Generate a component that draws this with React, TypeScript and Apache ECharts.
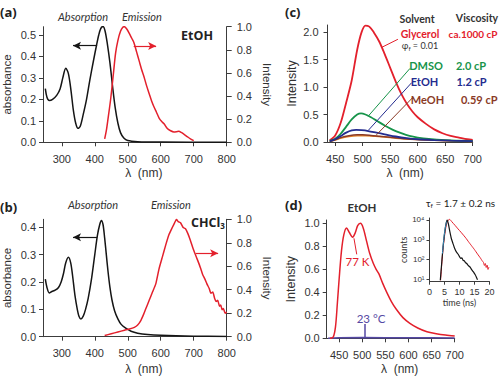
import React, { useEffect, useRef } from 'react';
import * as echarts from 'echarts';

// ---------- Panel (a): EtOH ----------
const aAbsX = [250, 255, 262, 272, 285, 295, 303, 312, 320, 328, 335, 342, 349, 356, 365, 375, 385, 396, 405, 412, 418, 425, 431, 438, 446, 454, 462, 470, 478, 488, 500, 530, 600, 800];
const aAbsY = [0.25, 0.21, 0.195, 0.2, 0.22, 0.25, 0.3, 0.345, 0.32, 0.24, 0.15, 0.09, 0.065, 0.075, 0.13, 0.2, 0.29, 0.38, 0.45, 0.5, 0.53, 0.54, 0.52, 0.46, 0.37, 0.26, 0.16, 0.09, 0.045, 0.02, 0.008, 0.003, 0.001, 0.0];
const aEmX = [430, 435, 440, 448, 456, 463, 470, 478, 485, 490, 497, 505, 512, 519, 527, 535, 542, 549, 557, 565, 572, 579, 587, 595, 603, 610, 620, 630, 640, 648, 655, 662, 670, 680, 690, 700];
const aEmY = [0.03, 0.1, 0.2, 0.37, 0.58, 0.77, 0.88, 0.96, 0.995, 1.0, 0.98, 0.94, 0.9, 0.86, 0.78, 0.7, 0.63, 0.57, 0.49, 0.42, 0.36, 0.31, 0.26, 0.21, 0.18, 0.16, 0.12, 0.1, 0.09, 0.092, 0.095, 0.085, 0.07, 0.05, 0.03, 0.015];

// ---------- Panel (b): CHCl3 ----------
const bAbsX = [250, 255, 262, 270, 280, 290, 298, 305, 312, 320, 327, 333, 340, 347, 352, 358, 365, 372, 380, 390, 400, 408, 415, 420, 425, 430, 435, 440, 446, 452, 460, 470, 480, 495, 510, 530, 560, 600, 700, 800];
const bAbsY = [0.21, 0.18, 0.16, 0.165, 0.17, 0.18, 0.2, 0.23, 0.27, 0.29, 0.27, 0.22, 0.15, 0.1, 0.075, 0.065, 0.075, 0.1, 0.14, 0.21, 0.3, 0.37, 0.41, 0.425, 0.41, 0.36, 0.3, 0.24, 0.18, 0.135, 0.095, 0.065, 0.045, 0.03, 0.02, 0.013, 0.008, 0.005, 0.002, 0.001];
const bEmX = [430, 450, 470, 490, 505, 520, 530, 540, 548, 555, 565, 575, 585, 595, 605, 615, 625, 635, 642, 648, 653, 660, 668, 675, 682, 690, 697, 705, 712, 720, 727, 734, 740, 747, 752, 758, 763, 768, 773, 778, 782, 786, 790, 795, 800];
const bEmY = [0.01, 0.025, 0.04, 0.055, 0.065, 0.08, 0.1, 0.14, 0.19, 0.24, 0.31, 0.38, 0.45, 0.58, 0.68, 0.78, 0.87, 0.93, 0.97, 1.0, 0.98, 0.97, 0.93, 0.92, 0.88, 0.82, 0.76, 0.7, 0.65, 0.59, 0.53, 0.49, 0.45, 0.41, 0.37, 0.38, 0.33, 0.3, 0.31, 0.26, 0.27, 0.23, 0.24, 0.2, 0.21];

// ---------- Panel (c): solvents ----------
const cGlyX = [440, 450, 460, 470, 480, 490, 498, 505, 512, 520, 530, 540, 550, 560, 570, 580, 590, 600, 615, 630, 645, 660, 675, 690, 700];
const cGlyY = [0.03, 0.12, 0.35, 0.72, 1.12, 1.68, 2.0, 2.12, 2.1, 2.0, 1.83, 1.6, 1.35, 1.1, 0.88, 0.7, 0.56, 0.45, 0.33, 0.23, 0.16, 0.11, 0.08, 0.05, 0.04];
const cDmsoX = [440, 450, 460, 470, 480, 490, 497, 505, 515, 525, 540, 555, 570, 585, 600, 620, 650, 700];
const cDmsoY = [0.02, 0.06, 0.15, 0.28, 0.41, 0.5, 0.52, 0.5, 0.45, 0.39, 0.3, 0.22, 0.16, 0.11, 0.08, 0.055, 0.035, 0.02];
const cEtohX = [440, 450, 460, 470, 480, 488, 498, 510, 525, 540, 560, 580, 600, 630, 660, 700];
const cEtohY = [0.015, 0.05, 0.11, 0.17, 0.21, 0.22, 0.215, 0.2, 0.17, 0.14, 0.1, 0.07, 0.05, 0.035, 0.025, 0.015];
const cMeohX = [440, 450, 460, 475, 490, 500, 515, 530, 550, 575, 600, 640, 700];
const cMeohY = [0.01, 0.04, 0.08, 0.115, 0.13, 0.13, 0.12, 0.105, 0.085, 0.06, 0.045, 0.03, 0.015];
const cOthX = [440, 450, 460, 475, 490, 505, 520, 540, 560, 590, 620, 660, 700];
const cOthY = [0.01, 0.035, 0.07, 0.1, 0.115, 0.115, 0.105, 0.09, 0.07, 0.05, 0.035, 0.02, 0.01];

// ---------- Panel (d): EtOH 77 K / 23 °C ----------
const d77X = [430, 437, 442, 446, 450, 455, 460, 466, 472, 479, 485, 490, 496, 502, 509, 516, 524, 530, 536, 544, 553, 563, 574, 588, 603, 620, 640, 660, 680, 700];
const d77Y = [0.0, 0.01, 0.1, 0.3, 0.52, 0.76, 0.9, 0.96, 0.92, 0.88, 0.92, 0.98, 1.0, 0.96, 0.85, 0.74, 0.65, 0.6, 0.56, 0.48, 0.4, 0.32, 0.25, 0.18, 0.13, 0.09, 0.057, 0.04, 0.028, 0.02];
const d23X = [426, 450, 500, 550, 600, 650, 700];
const d23Y = [0.0, 0.005, 0.006, 0.005, 0.004, 0.004, 0.003];

// ---------- Inset: decay (log10 counts) ----------
const tBlackX = [3.6, 4.0, 4.5, 5.0, 5.5, 5.9, 6.3, 6.8, 7.3, 7.8, 8.3, 8.9, 9.5, 10.0, 10.4, 10.8, 11.2, 11.6, 12.0, 12.4, 12.8, 13.2, 13.6, 14.0, 14.4, 14.8, 15.2, 15.6, 16.0];
const tBlackY = [0.95, 1.7, 2.6, 3.3, 3.8, 4.0, 3.8, 3.4, 3.05, 2.82, 2.6, 2.4, 2.28, 2.15, 2.06, 2.08, 1.96, 1.94, 1.84, 1.8, 1.72, 1.66, 1.6, 1.5, 1.42, 1.34, 1.24, 1.12, 0.98];
const tRedX = [3.7, 4.2, 4.7, 5.2, 5.7, 6.2, 6.7, 7.5, 8.5, 9.5, 10.5, 11.5, 12.2, 13.0, 14.0, 15.0, 16.0, 17.0, 17.5, 18.0, 18.3, 18.6, 18.9, 19.2, 19.5, 19.8];
const tRedY = [0.95, 2.0, 2.8, 3.4, 3.8, 3.98, 4.03, 3.9, 3.73, 3.55, 3.38, 3.2, 3.07, 2.9, 2.7, 2.5, 2.28, 2.07, 1.95, 1.85, 1.7, 1.8, 1.6, 1.72, 1.5, 1.62];
const tIrfX = [4.3, 4.8, 5.3, 5.7];
const tIrfY = [2.3, 3.1, 3.65, 3.92];

// ---------- Tick labels ----------
const abTicks = [300, 400, 500, 600, 700, 800];
const absTicksA = [0, 0.1, 0.2, 0.3, 0.4, 0.5];
const absTicksB = [0, 0.1, 0.2, 0.3, 0.4];
const intTicks = [0, 0.2, 0.4, 0.6, 0.8, 1.0];
const cdTicks = [450, 500, 550, 600, 650, 700];
const cYTicks = [0, 0.5, 1.0, 1.5, 2.0];
const dYTicks = [0, 0.2, 0.4, 0.6, 0.8, 1.0];
const inXTicks = [0, 5, 10, 15, 20];
const inYTicks = [1, 2, 3, 4];
const supDigits: Record<number, string> = { 1: '¹', 2: '²', 3: '³', 4: '⁴' };

const RED = '#e3202c';
const BLACK = '#151515';
const GREEN = '#17944a';
const BLUE = '#242c8f';
const BROWN = '#8a3a26';
const ORANGE = '#e8862a';
const PURPLE = '#5548a3';
const AX = '#3c3c3c';
const LBL = '#333';

const pairs = (xs: number[], ys: number[]) => xs.map((x, i) => [x, ys[i]]);
const f1 = (v: number) => v.toFixed(1);

function mkAxis(o: any) {
  return {
    type: 'value',
    gridIndex: o.grid,
    position: o.position,
    min: o.min,
    max: o.max,
    name: o.name,
    nameLocation: 'middle',
    nameGap: o.nameGap,
    nameRotate: o.nameRotate,
    nameTextStyle: {
      fontFamily: o.nameFamily || 'Liberation Sans',
      fontSize: o.nameSize || 12,
      color: LBL,
      padding: o.namePadding || 0,
    },
    axisLine: { show: true, onZero: false, lineStyle: { color: AX, width: 1 } },
    axisTick: { show: true, inside: false, length: o.tickLen || 4, customValues: o.ticks, lineStyle: { color: AX } },
    axisLabel: {
      show: true,
      customValues: o.ticks,
      margin: o.margin ?? 7,
      fontFamily: 'Liberation Sans',
      fontSize: o.labelSize || 11,
      color: LBL,
      formatter: o.fmt,
    },
    splitLine: { show: false },
  };
}

function line(x: number, y: number, data: number[][], color: string, width = 1.5, extra: any = {}) {
  return {
    type: 'line',
    xAxisIndex: x,
    yAxisIndex: y,
    data,
    symbol: 'none',
    showSymbol: false,
    smooth: 0.3,
    silent: true,
    lineStyle: { color, width },
    itemStyle: { color },
    emphasis: { disabled: true },
    ...extra,
  };
}

function mark(coords: number[][][], color: string, arrow = false, width = 1) {
  return {
    silent: true,
    symbol: arrow ? ['none', 'arrow'] : ['none', 'none'],
    symbolSize: [6, 8],
    lineStyle: { color, width, type: 'solid' },
    label: { show: false },
    emphasis: { disabled: true },
    data: coords.map((c) => [{ coord: c[0] }, { coord: c[1] }]),
  };
}

function txt(text: string, x: number, y: number, o: any = {}) {
  return {
    type: 'text',
    x,
    y,
    silent: true,
    style: {
      text,
      fill: o.fill || '#222',
      fontSize: o.size || 11,
      fontFamily: o.family || 'Lato',
      fontWeight: o.weight || 'normal',
      fontStyle: o.style || 'normal',
      align: o.align || 'center',
      verticalAlign: 'middle',
      rich: o.rich,
    },
  };
}

export default function App() {
  const ref = useRef<HTMLDivElement>(null);
  useEffect(() => {
    if (!ref.current) return;
    const chart = echarts.init(ref.current, undefined, { renderer: 'svg' });
    const option: any = {
      animation: false,
      backgroundColor: '#fff',
      grid: [
        { left: 43, top: 26.7, width: 183.7, height: 115.6 },
        { left: 43, top: 219.3, width: 183.7, height: 117.4 },
        { left: 327.5, top: 25, width: 145.2, height: 117 },
        { left: 326.7, top: 220, width: 128, height: 118.3 },
        { left: 429.5, top: 218, width: 60, height: 63.7 },
      ],
      xAxis: [
        mkAxis({ grid: 0, min: 243, max: 800, ticks: abTicks, name: 'λ  (nm)', nameGap: 25, margin: 11, namePadding: [0, 0, 0, 18] }),
        mkAxis({ grid: 1, min: 243, max: 800, ticks: abTicks, name: 'λ  (nm)', nameGap: 26, margin: 11, namePadding: [0, 0, 0, 18] }),
        mkAxis({ grid: 2, min: 436, max: 700, ticks: cdTicks, name: 'λ  (nm)', nameGap: 25, margin: 11, namePadding: [0, 0, 0, 10] }),
        mkAxis({ grid: 3, min: 423, max: 700, ticks: cdTicks, name: 'λ  (nm)', nameGap: 25, margin: 11, namePadding: [0, 0, 0, 18] }),
        mkAxis({ grid: 4, min: 0, max: 20, ticks: inXTicks, name: 'time (ns)', nameGap: 16, nameSize: 9, nameFamily: 'Lato', labelSize: 9, margin: 6, tickLen: 3 }),
      ],
      yAxis: [
        mkAxis({ grid: 0, position: 'left', min: 0, max: 0.5387, ticks: absTicksA, fmt: f1, name: 'absorbance', nameGap: 30, nameSize: 11.5 }),
        mkAxis({ grid: 0, position: 'right', min: 0, max: 1, ticks: intTicks, fmt: f1, name: 'Intensity', nameGap: 34, nameRotate: -90, nameSize: 11.5, margin: 10, tickLen: 5 }),
        mkAxis({ grid: 1, position: 'left', min: 0, max: 0.429, ticks: absTicksB, fmt: f1, name: 'absorbance', nameGap: 30, nameSize: 11.5 }),
        mkAxis({ grid: 1, position: 'right', min: 0, max: 1, ticks: intTicks, fmt: f1, name: 'Intensity', nameGap: 34, nameRotate: -90, nameSize: 11.5, margin: 10, tickLen: 5 }),
        mkAxis({ grid: 2, position: 'left', min: 0, max: 2.13, ticks: cYTicks, fmt: f1, name: 'Intensity', nameGap: 29, nameSize: 12.5, margin: 9 }),
        mkAxis({ grid: 3, position: 'left', min: 0, max: 1.029, ticks: dYTicks, fmt: f1, name: 'Intensity', nameGap: 29, nameSize: 12.5, margin: 7 }),
        mkAxis({ grid: 4, position: 'left', min: 0.88, max: 4.1, ticks: inYTicks, fmt: (v: number) => '10' + (supDigits[v] || ''), name: 'counts', nameGap: 20, nameSize: 9, nameFamily: 'Lato', labelSize: 8, margin: 5, tickLen: 3 }),
      ],
      series: [
        // (a)
        line(0, 0, pairs(aAbsX, aAbsY), BLACK, 1.5, { markLine: mark([[[407, 0.45], [334, 0.45]]], BLACK, true, 1.2) }),
        line(0, 1, pairs(aEmX, aEmY), RED, 1.5, { markLine: mark([[[518, 0.833], [586, 0.833]]], RED, true, 1.2) }),
        // (b)
        line(1, 2, pairs(bAbsX, bAbsY), BLACK, 1.5, { markLine: mark([[[407, 0.363], [334, 0.363]]], BLACK, true, 1.2) }),
        line(1, 3, pairs(bEmX, bEmY), RED, 1.5, { smooth: 0.15, markLine: mark([[[706, 0.71], [774, 0.71]]], RED, true, 1.2) }),
        // (c)
        line(2, 4, pairs(cOthX, cOthY), ORANGE, 1.5),
        line(2, 4, pairs(cMeohX, cMeohY), BROWN, 1.5, { markLine: mark([[[525, 0.13], [592, 0.82]]], BROWN) }),
        line(2, 4, pairs(cGlyX, cGlyY), RED, 1.8, { markLine: mark([[[534, 1.72], [564, 1.87]]], RED) }),
        line(2, 4, pairs(cDmsoX, cDmsoY), GREEN, 1.8, { markLine: mark([[[510, 0.47], [586, 1.34]]], GREEN) }),
        line(2, 4, pairs(cEtohX, cEtohY), BLUE, 1.8, { markLine: mark([[[510, 0.21], [589, 1.08]]], BLUE) }),
        // (d)
        line(3, 5, pairs(d23X, d23Y), PURPLE, 1.5, { smooth: false, markLine: mark([[[506, 0.005], [506, 0.124]]], PURPLE, false, 1.5) }),
        line(3, 5, pairs(d77X, d77Y), RED, 1.5, { markLine: mark([[[482, 0.87], [488, 0.73]]], RED) }),
        // inset
        line(4, 6, pairs(tRedX, tRedY), RED, 1, { smooth: 0.2 }),
        line(4, 6, pairs(tBlackX, tBlackY), BLACK, 1.2, { smooth: 0.2 }),
        line(4, 6, pairs(tIrfX, tIrfY), '#3a8fc0', 1, { smooth: 0.2 }),
      ],
      graphic: [
        // (a)
        txt('(a)', 0, 12, { align: 'left', weight: 'bold', size: 13, family: 'Open Sans' }),
        txt('Absorption', 83, 16, { style: 'italic', size: 11, fill: '#333' }),
        txt('Emission', 142, 16, { style: 'italic', size: 11, fill: '#333' }),
        txt('EtOH', 197, 35, { weight: 'bold', size: 12.5, family: 'Open Sans', fill: '#222' }),
        // (b)
        txt('(b)', 0, 207, { align: 'left', weight: 'bold', size: 13, family: 'Open Sans' }),
        txt('Absorption', 93, 204, { style: 'italic', size: 11, fill: '#333' }),
        txt('Emission', 171, 204, { style: 'italic', size: 11, fill: '#333' }),
        txt('{a|CHCl}{s|3}', 208, 222, {
          rich: {
            a: { fontFamily: 'Open Sans', fontWeight: 'bold', fontSize: 12.5, fill: '#222' },
            s: { fontFamily: 'Open Sans', fontWeight: 'bold', fontSize: 8, fill: '#222', padding: [7, 0, 0, 0] },
          },
        }),
        // (c)
        txt('(c)', 285, 12, { align: 'left', weight: 'bold', size: 13, family: 'Open Sans' }),
        txt('Solvent', 417, 19, { weight: 'bold', size: 10.5, fill: '#333' }),
        txt('Viscosity', 477, 18, { weight: 'bold', size: 10.5, fill: '#333' }),
        txt('Glycerol', 420, 34, { weight: 'bold', size: 10.5, fill: RED }),
        txt('ca.1000 cP', 497.5, 34, { weight: 'bold', size: 10, fill: RED, align: 'right' }),
        txt('{a|φ}{s|f}{a| = 0.01}', 420, 45.5, {
          rich: {
            a: { fontFamily: 'Lato', fontSize: 9, fill: '#333' },
            s: { fontFamily: 'Lato', fontSize: 6, fill: '#333', padding: [5, 0, 0, 0] },
          },
        }),
        txt('DMSO', 426, 65, { weight: 'bold', size: 11, fill: GREEN }),
        txt('2.0 cP', 471, 65, { weight: 'bold', size: 11, fill: GREEN }),
        txt('EtOH', 424.5, 81, { weight: 'bold', size: 11, fill: BLUE }),
        txt('1.2 cP', 471.5, 81, { weight: 'bold', size: 11, fill: BLUE }),
        txt('MeOH', 427.5, 99, { weight: 'bold', size: 11, fill: BROWN }),
        txt('0.59 cP', 497.5, 99, { weight: 'bold', size: 11, fill: BROWN, align: 'right' }),
        // (d)
        txt('(d)', 285, 205, { align: 'left', weight: 'bold', size: 13, family: 'Open Sans' }),
        txt('EtOH', 362, 207, { weight: 'bold', size: 11.5, fill: '#333' }),
        txt('77 K', 357.5, 261, { size: 11.5, fill: RED }),
        txt('23 °C', 371, 318.5, { size: 11.5, fill: PURPLE }),
        txt('{a|τ}{s|f}{a| = 1.7 ± 0.2 ns}', 460.5, 203, {
          rich: {
            a: { fontFamily: 'Lato', fontSize: 10, fill: '#222' },
            s: { fontFamily: 'Lato', fontSize: 6.5, fill: '#222', padding: [5, 0, 0, 0] },
          },
        }),
      ],
    };
    chart.setOption(option);
    return () => chart.dispose();
  }, []);
  return <div ref={ref} style={{ position: 'absolute', left: 0, top: 0, width: 500, height: 378 }} />;
}
